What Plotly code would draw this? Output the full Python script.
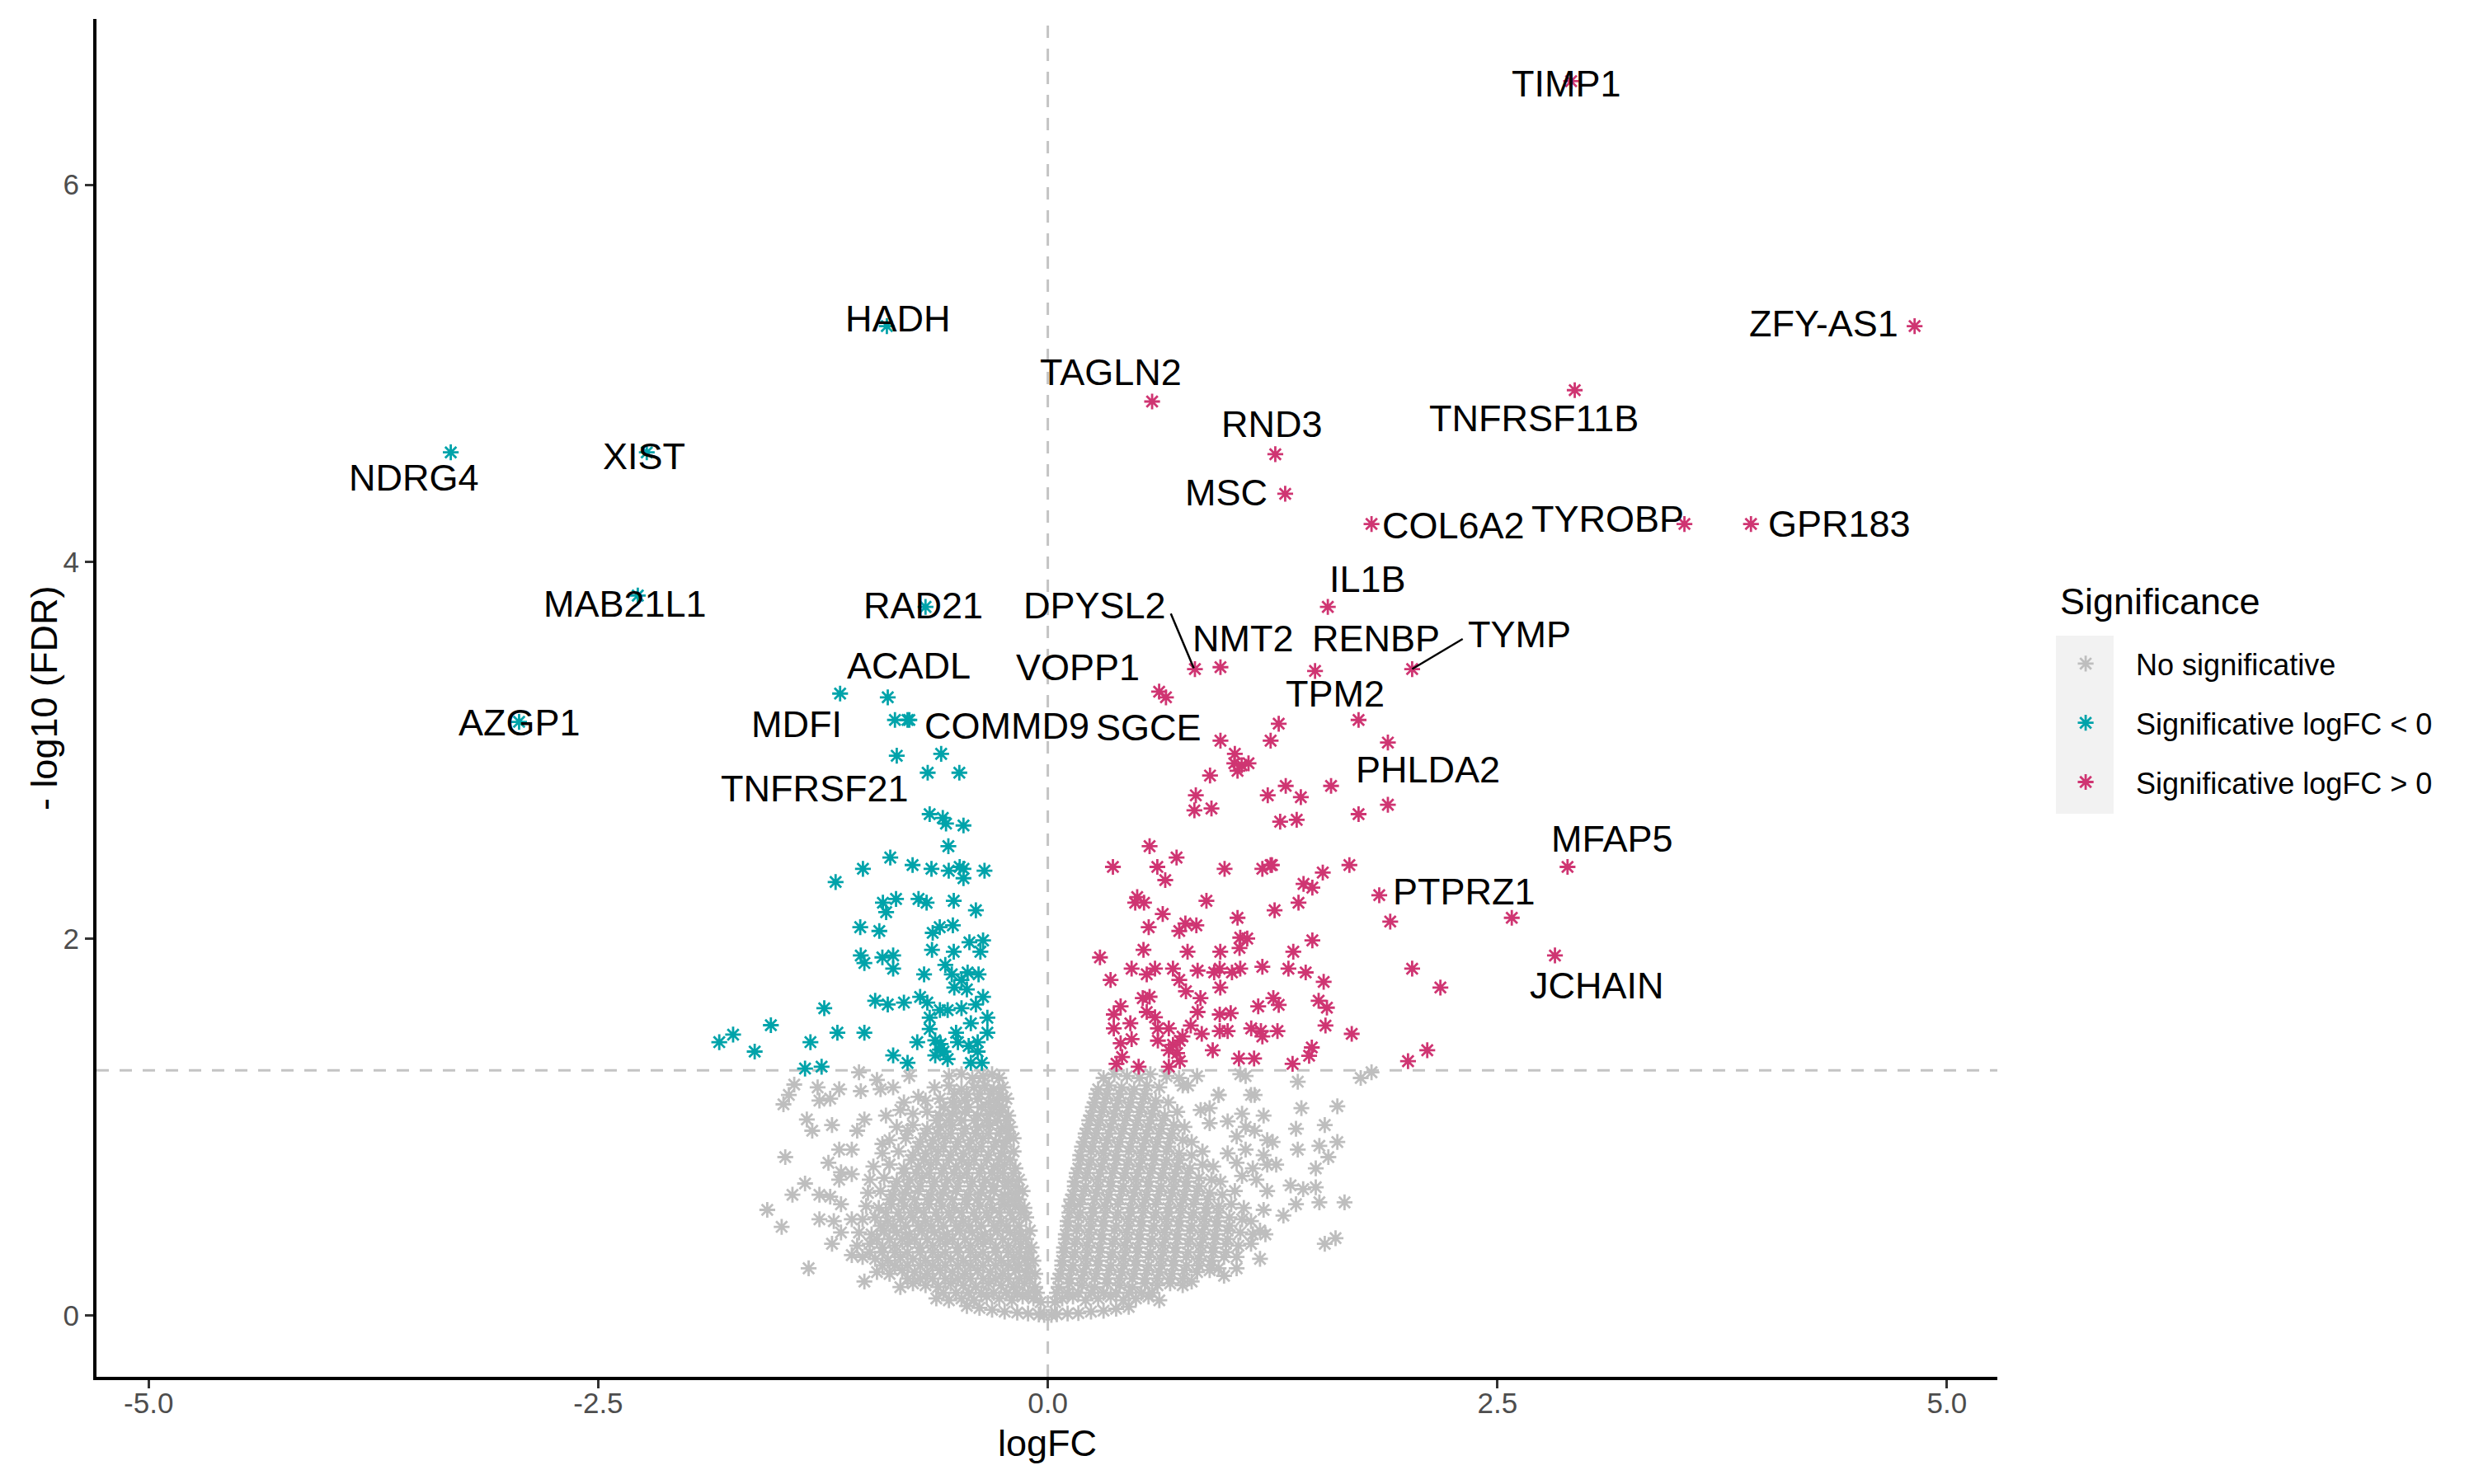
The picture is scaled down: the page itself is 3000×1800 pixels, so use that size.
import plotly.graph_objects as go

# ---------------- data ----------------
# non-significant genes (grey cloud): logFC, -log10(FDR)
grey_logfc = [
    -0.45,-0.38,-0.31,-0.24,-0.17,-0.11,-0.05,-0.02,0.02,0.05,0.11,0.17,0.24,0.31,0.38,0.45,
    -0.62,-0.55,-0.48,-0.41,-0.34,-0.27,-0.20,-0.14,-0.08,-0.04,0.04,0.08,0.14,0.21,0.28,0.35,0.42,0.49,0.56,0.62,
    -0.82,-0.75,-0.68,-0.61,-0.54,-0.47,-0.40,-0.33,-0.26,-0.19,-0.13,-0.07,0.06,0.12,0.19,0.26,0.33,0.40,0.47,0.54,0.61,0.68,0.75,0.80,
    -0.95,-0.88,-0.81,-0.74,-0.67,-0.60,-0.53,-0.46,-0.39,-0.32,-0.25,-0.18,-0.12,-0.07,0.07,0.13,0.20,0.27,0.34,0.41,0.48,0.55,0.62,0.69,0.76,0.83,0.90,0.95,
    -1.03,-0.96,-0.89,-0.82,-0.75,-0.68,-0.61,-0.54,-0.47,-0.40,-0.33,-0.26,-0.19,-0.13,-0.08,0.08,0.14,0.21,0.28,0.35,0.42,0.49,0.56,0.63,0.70,0.77,0.84,0.91,0.98,1.05,
    -1.06,-0.99,-0.92,-0.85,-0.78,-0.71,-0.64,-0.57,-0.50,-0.43,-0.36,-0.29,-0.22,-0.15,-0.09,0.09,0.15,0.22,0.29,0.36,0.43,0.50,0.57,0.64,0.71,0.78,0.85,0.92,0.99,1.06,1.13,
    -1.05,-0.98,-0.91,-0.84,-0.77,-0.70,-0.63,-0.56,-0.49,-0.42,-0.35,-0.28,-0.21,-0.15,-0.10,0.10,0.16,0.23,0.30,0.37,0.44,0.51,0.58,0.65,0.72,0.79,0.86,0.93,1.00,1.07,1.14,1.18,
    -1.03,-0.96,-0.89,-0.82,-0.75,-0.68,-0.61,-0.54,-0.47,-0.40,-0.33,-0.26,-0.19,-0.12,0.11,0.17,0.24,0.31,0.38,0.45,0.52,0.59,0.66,0.73,0.80,0.87,0.94,1.01,1.08,1.13,
    -1.01,-0.94,-0.87,-0.80,-0.73,-0.66,-0.59,-0.52,-0.45,-0.38,-0.31,-0.24,-0.18,-0.13,0.12,0.18,0.25,0.32,0.39,0.46,0.53,0.60,0.67,0.74,0.81,0.88,0.95,1.02,1.09,
    -1.00,-0.93,-0.86,-0.79,-0.72,-0.65,-0.58,-0.51,-0.44,-0.37,-0.30,-0.24,-0.18,-0.14,0.14,0.20,0.27,0.34,0.41,0.48,0.55,0.62,0.69,0.76,0.83,0.90,0.97,1.04,
    -0.99,-0.91,-0.84,-0.77,-0.70,-0.63,-0.56,-0.49,-0.42,-0.35,-0.28,-0.22,-0.16,0.15,0.21,0.28,0.35,0.42,0.49,0.56,0.63,0.70,0.77,0.84,0.91,0.96,1.08,1.16,
    -0.97,-0.88,-0.80,-0.72,-0.65,-0.58,-0.51,-0.44,-0.37,-0.30,-0.24,-0.18,0.17,0.23,0.30,0.37,0.44,0.51,0.58,0.65,0.72,0.79,0.86,0.92,1.05,1.14,1.22,
    -0.92,-0.83,-0.75,-0.68,-0.61,-0.54,-0.47,-0.40,-0.33,-0.26,-0.19,0.18,0.24,0.31,0.38,0.45,0.52,0.59,0.66,0.73,0.80,0.86,1.00,1.10,1.20,
    -0.88,-0.79,-0.71,-0.64,-0.57,-0.50,-0.43,-0.36,-0.29,-0.23,-0.19,0.20,0.26,0.33,0.40,0.47,0.54,0.61,0.68,0.75,0.80,1.05,1.22,
    -0.84,-0.75,-0.67,-0.60,-0.53,-0.46,-0.39,-0.32,-0.26,-0.21,0.22,0.28,0.35,0.42,0.49,0.56,0.63,0.70,0.76,0.90,1.10,
    -0.75,-0.67,-0.60,-0.53,-0.46,-0.39,-0.32,-0.27,-0.22,0.24,0.30,0.37,0.44,0.51,0.58,0.65,0.72,0.85,1.08,1.20,
    -0.68,-0.60,-0.53,-0.46,-0.39,-0.33,-0.28,-0.23,0.26,0.32,0.39,0.46,0.53,0.60,0.67,0.95,1.15,
    -0.63,-0.55,-0.48,-0.41,-0.35,-0.30,-0.25,0.28,0.34,0.41,0.48,0.55,0.62,0.75,
    -0.55,-0.48,-0.42,-0.36,-0.31,-0.27,0.31,0.37,0.44,0.51,0.57,0.66,0.73,1.07,
    # scattered left
    -1.41,-1.44,-1.47,-1.28,-1.27,-1.21,-1.16,-1.05,-1.04,-0.95,-0.93,-0.86,-0.82,-1.34,-1.31,-1.20,
    -1.06,-1.02,-1.16,-1.09,-0.92,-1.46,-1.22,-1.15,-1.09,-1.35,-1.42,-1.27,-1.21,-1.16,-1.56,-1.48,
    -1.27,-1.19,-1.15,-1.09,-1.15,-1.20,-1.09,-1.33,-1.02,-0.77,-0.72,-0.80,-0.90,-0.88,-0.78,
    # scattered right
    0.95,1.39,1.41,1.61,1.38,1.54,1.39,1.51,1.61,1.56,1.49,1.35,1.42,1.49,1.38,1.51,1.65,1.31,1.21,
    1.54,1.60,1.74,1.80,1.22,0.98,0.83,0.78,0.90,1.00,1.15,1.27,1.25,1.20,1.18,1.05,1.10,1.13,
]
grey_nlfdr = [
    0.05,0.04,0.03,0.02,0.015,0.01,0.005,0.003,0.003,0.006,0.01,0.012,0.02,0.025,0.035,0.045,
    0.09,0.08,0.09,0.08,0.10,0.09,0.08,0.10,0.09,0.07,0.07,0.09,0.10,0.08,0.09,0.10,0.08,0.09,0.10,0.08,
    0.15,0.17,0.16,0.15,0.17,0.16,0.15,0.17,0.16,0.15,0.17,0.15,0.15,0.17,0.16,0.15,0.17,0.16,0.15,0.17,0.16,0.17,0.16,0.18,
    0.23,0.22,0.24,0.23,0.22,0.24,0.23,0.22,0.24,0.23,0.22,0.24,0.23,0.22,0.22,0.24,0.23,0.22,0.24,0.23,0.22,0.24,0.23,0.22,0.24,0.23,0.24,0.25,
    0.31,0.30,0.29,0.31,0.30,0.29,0.31,0.30,0.29,0.31,0.30,0.29,0.31,0.30,0.29,0.29,0.31,0.30,0.29,0.31,0.30,0.29,0.31,0.30,0.29,0.31,0.30,0.29,0.31,0.31,
    0.37,0.38,0.36,0.37,0.38,0.36,0.37,0.38,0.36,0.37,0.38,0.36,0.37,0.38,0.36,0.36,0.38,0.37,0.36,0.38,0.37,0.36,0.38,0.37,0.36,0.38,0.37,0.36,0.38,0.37,0.38,
    0.44,0.43,0.45,0.44,0.43,0.45,0.44,0.43,0.45,0.44,0.43,0.45,0.44,0.43,0.45,0.43,0.45,0.44,0.43,0.45,0.44,0.43,0.45,0.44,0.43,0.45,0.44,0.43,0.45,0.44,0.43,0.45,
    0.51,0.52,0.50,0.51,0.52,0.50,0.51,0.52,0.50,0.51,0.52,0.50,0.51,0.52,0.50,0.52,0.51,0.50,0.52,0.51,0.50,0.52,0.51,0.50,0.52,0.51,0.50,0.52,0.51,0.50,
    0.58,0.57,0.59,0.58,0.57,0.59,0.58,0.57,0.59,0.58,0.57,0.59,0.58,0.57,0.58,0.59,0.57,0.58,0.59,0.57,0.58,0.59,0.57,0.58,0.59,0.57,0.58,0.59,0.57,
    0.65,0.66,0.64,0.65,0.66,0.64,0.65,0.66,0.64,0.65,0.66,0.64,0.65,0.66,0.64,0.66,0.65,0.64,0.66,0.65,0.64,0.66,0.65,0.64,0.66,0.65,0.64,0.66,
    0.72,0.73,0.71,0.72,0.73,0.71,0.72,0.73,0.71,0.72,0.73,0.71,0.72,0.71,0.73,0.72,0.71,0.73,0.72,0.71,0.73,0.72,0.71,0.73,0.72,0.71,0.74,0.72,
    0.79,0.80,0.78,0.79,0.80,0.78,0.79,0.80,0.78,0.79,0.80,0.78,0.78,0.80,0.79,0.78,0.80,0.79,0.78,0.80,0.79,0.78,0.80,0.79,0.81,0.78,0.80,
    0.86,0.87,0.85,0.86,0.87,0.85,0.86,0.87,0.85,0.86,0.87,0.85,0.87,0.86,0.85,0.87,0.86,0.85,0.87,0.86,0.85,0.87,0.86,0.88,0.85,
    0.93,0.94,0.92,0.93,0.94,0.92,0.93,0.94,0.92,0.93,0.94,0.92,0.94,0.93,0.92,0.94,0.93,0.92,0.94,0.93,0.92,0.95,0.93,
    1.00,1.01,0.99,1.00,1.01,0.99,1.00,1.01,0.99,1.00,0.99,1.01,1.00,0.99,1.01,1.00,0.99,1.01,1.00,1.02,1.00,
    1.07,1.08,1.06,1.07,1.08,1.06,1.07,1.08,1.06,1.06,1.08,1.07,1.06,1.08,1.07,1.06,1.08,1.09,1.07,1.06,
    1.14,1.15,1.13,1.14,1.15,1.13,1.14,1.15,1.13,1.15,1.14,1.13,1.15,1.14,1.13,1.17,1.17,
    1.21,1.22,1.20,1.21,1.22,1.20,1.21,1.20,1.22,1.21,1.20,1.22,1.21,1.22,
    1.27,1.28,1.26,1.27,1.28,1.26,1.26,1.28,1.27,1.26,1.28,1.27,1.26,1.28,
    1.225,1.17,1.12,1.21,1.14,1.15,1.20,1.29,1.19,1.25,1.20,1.21,1.09,1.04,0.98,1.01,
    0.98,1.04,0.88,0.88,0.91,0.84,0.81,0.76,0.75,0.70,0.64,0.64,0.63,0.72,0.56,0.47,
    0.51,0.50,0.59,0.51,0.44,0.38,0.32,0.25,0.18,1.27,1.16,1.13,1.06,0.80,0.98,
    1.17,1.24,1.10,1.11,0.99,1.01,0.88,0.90,0.92,0.84,0.78,0.69,0.67,0.68,0.59,0.60,0.60,0.53,0.43,
    0.38,0.41,1.26,1.29,0.66,0.21,1.27,1.22,1.10,1.03,0.98,0.80,0.92,0.56,0.30,0.25,1.27,1.17,
]
# the dense core of the grey cloud (extra overlapping genes)
grey_core_logfc = [
    -0.58,-0.51,-0.44,-0.37,-0.30,-0.23,-0.17,-0.11,-0.06,
    -0.78,-0.71,-0.64,-0.57,-0.50,-0.43,-0.36,-0.29,-0.22,-0.16,-0.10,
    -0.92,-0.85,-0.78,-0.71,-0.64,-0.57,-0.50,-0.43,-0.36,-0.29,-0.22,-0.16,-0.11,
    -0.99,-0.92,-0.85,-0.78,-0.71,-0.64,-0.57,-0.50,-0.43,-0.36,-0.29,-0.22,-0.16,-0.11,
    -0.95,-0.88,-0.81,-0.74,-0.67,-0.60,-0.53,-0.46,-0.39,-0.32,-0.25,-0.18,-0.12,
    -0.93,-0.86,-0.79,-0.72,-0.65,-0.58,-0.51,-0.44,-0.37,-0.30,-0.23,-0.16,
    -0.90,-0.83,-0.76,-0.69,-0.62,-0.55,-0.48,-0.41,-0.34,-0.27,-0.21,-0.15,
    -0.88,-0.81,-0.74,-0.67,-0.60,-0.53,-0.46,-0.39,-0.32,-0.26,-0.20,-0.16,
    -0.85,-0.78,-0.71,-0.64,-0.57,-0.50,-0.43,-0.36,-0.30,-0.24,-0.18,
    -0.80,-0.73,-0.66,-0.59,-0.52,-0.45,-0.38,-0.31,-0.25,-0.19,
    -0.76,-0.69,-0.62,-0.55,-0.48,-0.41,-0.34,-0.27,-0.21,
    -0.72,-0.65,-0.58,-0.51,-0.44,-0.37,-0.30,-0.24,
    -0.68,-0.61,-0.54,-0.47,-0.40,-0.33,-0.27,-0.22,
    -0.62,-0.55,-0.48,-0.41,-0.34,-0.28,-0.23,
    -0.58,-0.51,-0.44,-0.37,-0.30,-0.25,
    -0.52,-0.45,-0.38,-0.32,-0.27,
    0.05,0.11,0.17,0.24,0.31,0.38,0.45,0.52,0.58,
    0.06,0.12,0.19,0.26,0.33,0.40,0.47,0.54,0.61,0.68,0.75,
    0.08,0.14,0.21,0.28,0.35,0.42,0.49,0.56,0.63,0.70,0.77,0.84,0.91,
    0.09,0.15,0.22,0.29,0.36,0.43,0.50,0.57,0.64,0.71,0.78,0.85,0.92,0.99,
    0.10,0.16,0.23,0.30,0.37,0.44,0.51,0.58,0.65,0.72,0.79,0.86,0.93,1.00,
    0.11,0.17,0.24,0.31,0.38,0.45,0.52,0.59,0.66,0.73,0.80,0.87,0.94,1.01,
    0.12,0.18,0.25,0.32,0.39,0.46,0.53,0.60,0.67,0.74,0.81,0.88,0.95,
    0.13,0.19,0.26,0.33,0.40,0.47,0.54,0.61,0.68,0.75,0.82,0.89,
    0.15,0.21,0.28,0.35,0.42,0.49,0.56,0.63,0.70,0.77,0.84,
    0.16,0.22,0.29,0.36,0.43,0.50,0.57,0.64,0.71,0.78,
    0.18,0.24,0.31,0.38,0.45,0.52,0.59,0.66,0.73,
    0.19,0.25,0.32,0.39,0.46,0.53,0.60,0.67,
    0.21,0.27,0.34,0.41,0.48,0.55,0.62,0.69,
    0.23,0.29,0.36,0.43,0.50,0.57,0.64,
    0.25,0.31,0.38,0.45,0.52,0.59,
    0.27,0.33,0.40,0.47,0.54,
]
grey_core_nlfdr = (
    [0.12]*9 + [0.195]*11 + [0.265]*13 + [0.335]*14 + [0.405]*13 + [0.475]*12 + [0.545]*12 + [0.615]*12
    + [0.685]*11 + [0.755]*10 + [0.825]*9 + [0.895]*8 + [0.965]*8 + [1.035]*7 + [1.105]*6 + [1.175]*5
    + [0.12]*9 + [0.195]*11 + [0.265]*13 + [0.335]*14 + [0.405]*14 + [0.475]*14 + [0.545]*13 + [0.615]*12
    + [0.685]*11 + [0.755]*10 + [0.825]*9 + [0.895]*8 + [0.965]*8 + [1.035]*7 + [1.105]*6 + [1.175]*5
)

# significant, logFC < 0
down_logfc = [
    -0.895,-3.32,-2.23,-2.28,-0.68,-2.94,-1.155,-0.89,-0.85,-0.78,-0.77,-0.84,
    -0.593,-0.668,-0.492,-0.657,-0.584,-0.566,-0.469,-0.553,-0.876,-1.028,-1.18,-0.752,-0.647,-0.551,-0.49,-0.469,-0.469,-0.352,
    -0.917,-0.844,-0.899,-0.719,-0.674,-0.523,-0.40,
    -1.043,-0.937,-0.601,-0.528,-0.64,-0.436,-0.36,-0.375,-0.644,-0.523,
    -1.04,-1.02,-0.92,-0.86,-0.86,-0.688,
    -0.57,-0.534,-0.446,-0.385,-0.48,-0.52,-0.45,
    -0.96,-0.89,-0.80,-0.71,-0.67,
    -0.60,-0.557,-0.48,-0.40,-0.36,-0.657,-0.336,-0.428,
    -1.243,-1.54,-1.75,-1.827,-1.63,-1.32,-1.17,-1.02,-1.35,-1.258,
    -0.726,-0.657,-0.626,-0.596,-0.51,-0.50,-0.44,-0.39,-0.336,
    -0.86,-0.78,-0.626,-0.557,-0.428,-0.367,-0.39,-0.60,-0.58,
]
down_nlfdr = [
    5.25,4.58,4.58,3.82,3.76,3.15,3.30,3.28,3.16,3.16,3.16,2.97,
    2.98,2.88,2.88,2.66,2.64,2.61,2.60,2.49,2.43,2.37,2.30,2.39,2.37,2.36,2.38,2.37,2.32,2.36,
    2.19,2.21,2.14,2.21,2.19,2.20,2.15,
    2.06,2.04,2.06,2.07,2.03,1.98,1.99,1.93,1.94,1.93,
    1.91,1.87,1.90,1.91,1.84,1.81,
    1.86,1.81,1.82,1.81,1.78,1.74,1.73,
    1.67,1.65,1.66,1.69,1.66,
    1.62,1.62,1.63,1.65,1.69,1.58,1.58,1.55,
    1.63,1.54,1.49,1.45,1.40,1.45,1.50,1.50,1.31,1.32,
    1.45,1.52,1.46,1.44,1.50,1.45,1.43,1.45,1.50,
    1.38,1.34,1.38,1.36,1.34,1.34,1.40,1.41,1.40,
]

# significant, logFC > 0
up_logfc = [
    2.91,4.82,0.58,2.93,1.265,1.32,1.80,3.54,3.91,1.557,0.818,0.96,1.486,2.026,0.619,0.657,1.728,0.96,1.891,
    2.89,1.843,2.82,2.58,
    1.284,1.239,1.04,1.037,1.078,1.116,1.055,0.902,0.823,0.815,0.91,1.223,1.323,1.407,1.575,1.292,1.384,1.728,1.891,
    0.566,0.362,0.609,0.716,0.653,0.983,1.193,1.239,1.246,1.529,1.677,
    0.497,0.486,0.535,0.882,1.422,1.471,1.394,1.261,1.904,
    0.639,0.561,0.731,0.765,0.826,1.055,1.07,1.109,1.066,
    0.29,0.532,0.777,0.959,1.365,1.471,
    0.349,0.466,0.55,0.596,0.696,0.731,0.768,
    0.833,0.925,0.956,1.024,1.07,1.193,0.959,1.338,1.434,1.534,2.026,2.183,
    0.367,0.405,0.367,0.459,0.405,0.466,0.413,0.382,0.505,0.528,0.566,0.55,0.596,0.612,0.612,0.673,
    0.696,0.673,0.719,0.734,0.749,0.673,0.734,0.795,0.833,0.849,0.856,0.917,0.956,1.017,0.956,1.0,
    1.131,1.17,1.185,1.193,1.254,1.284,1.277,1.063,1.147,1.361,1.453,1.468,1.506,1.552,1.544,1.69,
    2.003,2.11,
]
up_nlfdr = [
    6.55,5.25,4.85,4.91,4.57,4.36,4.20,4.20,4.20,3.76,3.43,3.44,3.42,3.43,3.31,3.28,3.16,3.05,3.04,
    2.38,2.23,1.91,2.11,
    3.14,3.05,2.98,2.93,2.92,2.93,2.89,2.865,2.76,2.68,2.69,2.76,2.81,2.75,2.81,2.62,2.63,2.66,2.71,
    2.49,2.38,2.38,2.43,2.31,2.37,2.37,2.39,2.39,2.35,2.39,
    2.22,2.19,2.19,2.20,2.29,2.27,2.19,2.15,2.09,
    2.13,2.06,2.04,2.08,2.07,2.11,2.005,2.0,1.95,
    1.90,1.94,1.93,1.93,1.93,1.99,
    1.78,1.84,1.81,1.84,1.84,1.78,1.72,
    1.83,1.82,1.84,1.82,1.84,1.85,1.74,1.84,1.82,1.77,1.84,1.74,
    1.597,1.64,1.523,1.55,1.444,1.466,1.371,1.335,1.32,1.684,1.691,1.61,1.582,1.523,1.458,1.523,
    1.436,1.407,1.392,1.458,1.48,1.32,1.349,1.538,1.61,1.684,1.494,1.407,1.597,1.604,1.509,1.509,
    1.523,1.64,1.509,1.48,1.684,1.648,1.509,1.363,1.363,1.335,1.378,1.422,1.67,1.633,1.538,1.494,
    1.349,1.407,
]

# gene labels (text placement as drawn by the repel step)
label_genes = ["TIMP1","ZFY-AS1","HADH","TAGLN2","TNFRSF11B","RND3","NDRG4","XIST","MSC",
               "COL6A2","TYROBP","GPR183","IL1B","MAB21L1","RAD21","DPYSL2","NMT2","RENBP",
               "TYMP","ACADL","VOPP1","TPM2","AZGP1","MDFI","COMMD9","SGCE","PHLDA2",
               "TNFRSF21","MFAP5","PTPRZ1","JCHAIN"]
label_x = [2.886,4.316,-0.833,0.351,2.702,1.246,-3.526,-2.246,0.991,
           2.254,3.114,4.404,1.781,-2.351,-0.693,0.263,1.088,1.825,
           2.623,-0.772,0.167,1.596,-2.939,-1.395,-0.228,0.561,2.114,
           -1.298,3.140,2.316,3.053]
label_y = [6.535,5.264,5.289,5.004,4.762,4.728,4.444,4.561,4.368,
           4.192,4.226,4.201,3.908,3.774,3.766,3.766,3.590,3.590,
           3.615,3.448,3.439,3.297,3.146,3.138,3.130,3.121,2.895,
           2.795,2.527,2.251,1.749]
# connector segments (label end -> point)
seg_x0 = [0.684, 2.307]
seg_y0 = [3.724, 3.590]
seg_x1 = [0.812, 2.026]
seg_y1 = [3.435, 3.430]

x_ticks = [-5.0, -2.5, 0.0, 2.5, 5.0]
x_ticktext = ["-5.0", "-2.5", "0.0", "2.5", "5.0"]
y_ticks = [0, 2, 4, 6]
fdr_cut = 1.3010  # -log10(0.05)

# ---------------- figure ----------------
FONT = "Liberation Sans, Arial, Helvetica, sans-serif"
GREY, CYAN, MAG = "#BEBEBE", "#00A3AA", "#CF3572"
MS, LW = 16, 2.8

fig = go.Figure()
for xs, ys, col, name in [
    (grey_logfc + grey_core_logfc, grey_nlfdr + grey_core_nlfdr, GREY, "No significative"),
    (down_logfc, down_nlfdr, CYAN, "Significative logFC < 0"),
    (up_logfc, up_nlfdr, MAG, "Significative logFC > 0"),
]:
    fig.add_trace(go.Scatter(
        x=xs, y=ys, mode="markers", name=name, legendgroup=name,
        marker=dict(symbol="asterisk-open", size=MS, color=col,
                    line=dict(color=col, width=LW)),
    ))

# reference lines
fig.add_shape(type="line", xref="x", yref="paper", x0=0, x1=0, y0=0, y1=1,
              line=dict(color="#C4C4C4", width=3, dash="15px,13px"), layer="below")
fig.add_shape(type="line", xref="paper", yref="y", x0=0, x1=1, y0=fdr_cut, y1=fdr_cut,
              line=dict(color="#C4C4C4", width=3, dash="15px,13px"), layer="below")

for x0, y0, x1, y1 in zip(seg_x0, seg_y0, seg_x1, seg_y1):
    fig.add_shape(type="line", xref="x", yref="y", x0=x0, y0=y0, x1=x1, y1=y1,
                  line=dict(color="black", width=2.5))

for g, lx, ly in zip(label_genes, label_x, label_y):
    fig.add_annotation(x=lx, y=ly, text=g, showarrow=False, xanchor="center", yanchor="middle",
                       font=dict(family=FONT, size=45, color="black"))

# axis titles
fig.add_annotation(xref="paper", yref="paper", x=0.5, y=-0.0486, text="logFC", showarrow=False,
                   xanchor="center", yanchor="middle", font=dict(family=FONT, size=45, color="black"))
fig.add_annotation(xref="paper", yref="paper", x=-0.0275, y=0.5, text="- log10 (FDR)", showarrow=False,
                   textangle=-90, xanchor="center", yanchor="middle",
                   font=dict(family=FONT, size=45, color="black"))
# legend title
fig.add_annotation(xref="paper", yref="paper", x=1.0321, y=0.5713, text="Significance", showarrow=False,
                   xanchor="left", yanchor="middle", font=dict(family=FONT, size=45, color="black"))

# legend key background
fig.add_shape(type="rect", xref="paper", yref="paper", x0=1.0308, x1=1.0612, y0=0.4147, y1=0.5458,
              fillcolor="#F2F2F2", line=dict(width=0), layer="above")

axis_common = dict(showgrid=False, zeroline=False, showline=True, linecolor="black", linewidth=4,
                   ticks="outside", ticklen=10, tickwidth=3, tickcolor="#333333", automargin=False,
                   tickfont=dict(family=FONT, size=35, color="#4D4D4D"), mirror=False)

# the page body adds an 8 px offset, so the margins are shifted by that amount
fig.update_layout(
    width=3000, height=1800,
    margin=dict(l=109, r=586, t=15, b=138),
    plot_bgcolor="white", paper_bgcolor="white",
    font=dict(family=FONT, color="black"),
    xaxis=dict(range=[-5.29, 5.28], tickvals=x_ticks, ticktext=x_ticktext, ticklabelstandoff=-12,
               **axis_common),
    yaxis=dict(range=[-0.326, 6.88], tickvals=y_ticks, **axis_common),
    legend=dict(x=1.0200, y=0.5434, xanchor="left", yanchor="top",
                bgcolor="rgba(0,0,0,0)", traceorder="grouped", tracegroupgap=22,
                itemwidth=112,
                font=dict(family=FONT, size=36, color="black")),
)

fig.write_html("out.html")
